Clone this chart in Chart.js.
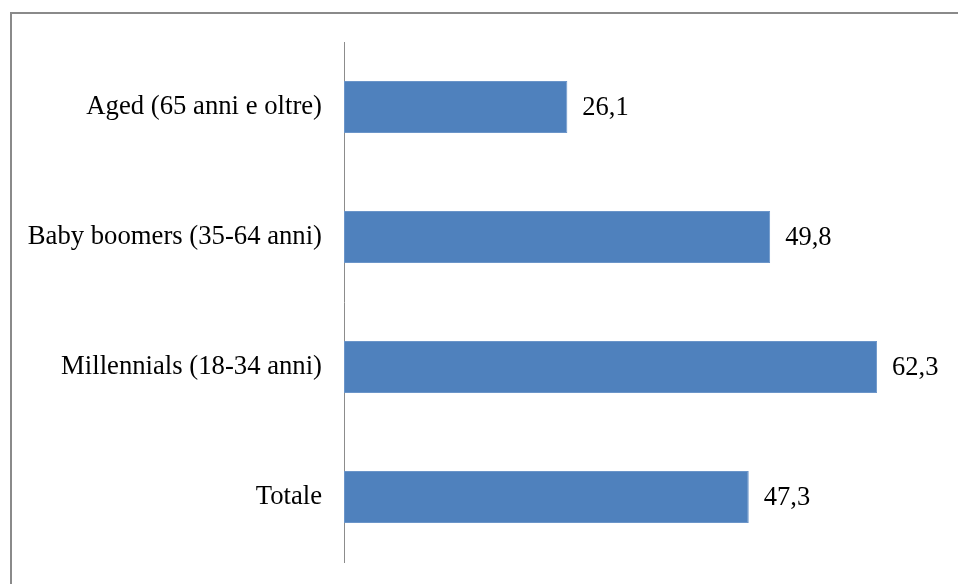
<!DOCTYPE html>
<html>
<head>
<meta charset="utf-8">
<script src="https://cdn.jsdelivr.net/npm/chart.js@4"></script>
<style>
  html, body { margin: 0; padding: 0; background: #fff; overflow: hidden; }
  #frame {
    position: absolute; left: 10px; top: 12px;
    width: 1000px; height: 700px;
    border-top: 2px solid #8a8a8a; border-left: 2px solid #8a8a8a;
  }
  #wrap { position: absolute; left: 0; top: 0; width: 958px; height: 584px; }
</style>
</head>
<body>
<div id="frame"></div>
<div id="wrap"><canvas id="chart"></canvas></div>
<script>
// Data
const categories = ['Aged (65 anni e oltre)', 'Baby boomers (35-64 anni)', 'Millennials (18-34 anni)', 'Totale'];
const values = [26.1, 49.8, 62.3, 47.3];

const FONT = '"Liberation Serif", "Times New Roman", serif';

// Draw value labels to the right of the bars
const valueLabels = {
    id: 'valueLabels',
    afterDatasetsDraw(chart) {
        const ctx = chart.ctx;
        const meta = chart.getDatasetMeta(0);
        ctx.save();
        ctx.font = '26.5px ' + FONT;
        ctx.fillStyle = '#000';
        ctx.textAlign = 'left';
        ctx.textBaseline = 'middle';
        meta.data.forEach(function(bar, i) {
            const txt = values[i].toFixed(1).replace('.', ',');
            ctx.fillText(txt, bar.x + 15, bar.y + 1);
        });
        ctx.restore();
    }
};

new Chart(document.getElementById('chart'), {
    type: 'bar',
    data: {
        labels: categories,
        datasets: [{
            data: values,
            backgroundColor: '#4f81bd',
            borderColor: '#6b95c9',
            borderWidth: 1,
            borderSkipped: false,
            categoryPercentage: 1,
            barPercentage: 0.4
        }]
    },
    options: {
        indexAxis: 'y',
        responsive: true,
        maintainAspectRatio: false,
        animation: false,
        layout: { padding: { top: 42, bottom: 22, right: 15, left: 0 } },
        plugins: {
            legend: { display: false },
            tooltip: { enabled: false }
        },
        scales: {
            x: {
                display: false,
                min: 0,
                max: 70
            },
            y: {
                afterFit: function(scale) {
                    scale.width = 344;
                    scale.paddingTop = 0;
                    scale.paddingBottom = 0;
                },
                grid: { display: true, color: 'transparent', drawTicks: false },
                border: { display: true, color: '#8c8c8c', width: 1 },
                ticks: {
                    padding: 22,
                    color: '#000',
                    font: { family: FONT, size: 26.7 }
                }
            }
        }
    },
    plugins: [valueLabels]
});
</script>
</body>
</html>
